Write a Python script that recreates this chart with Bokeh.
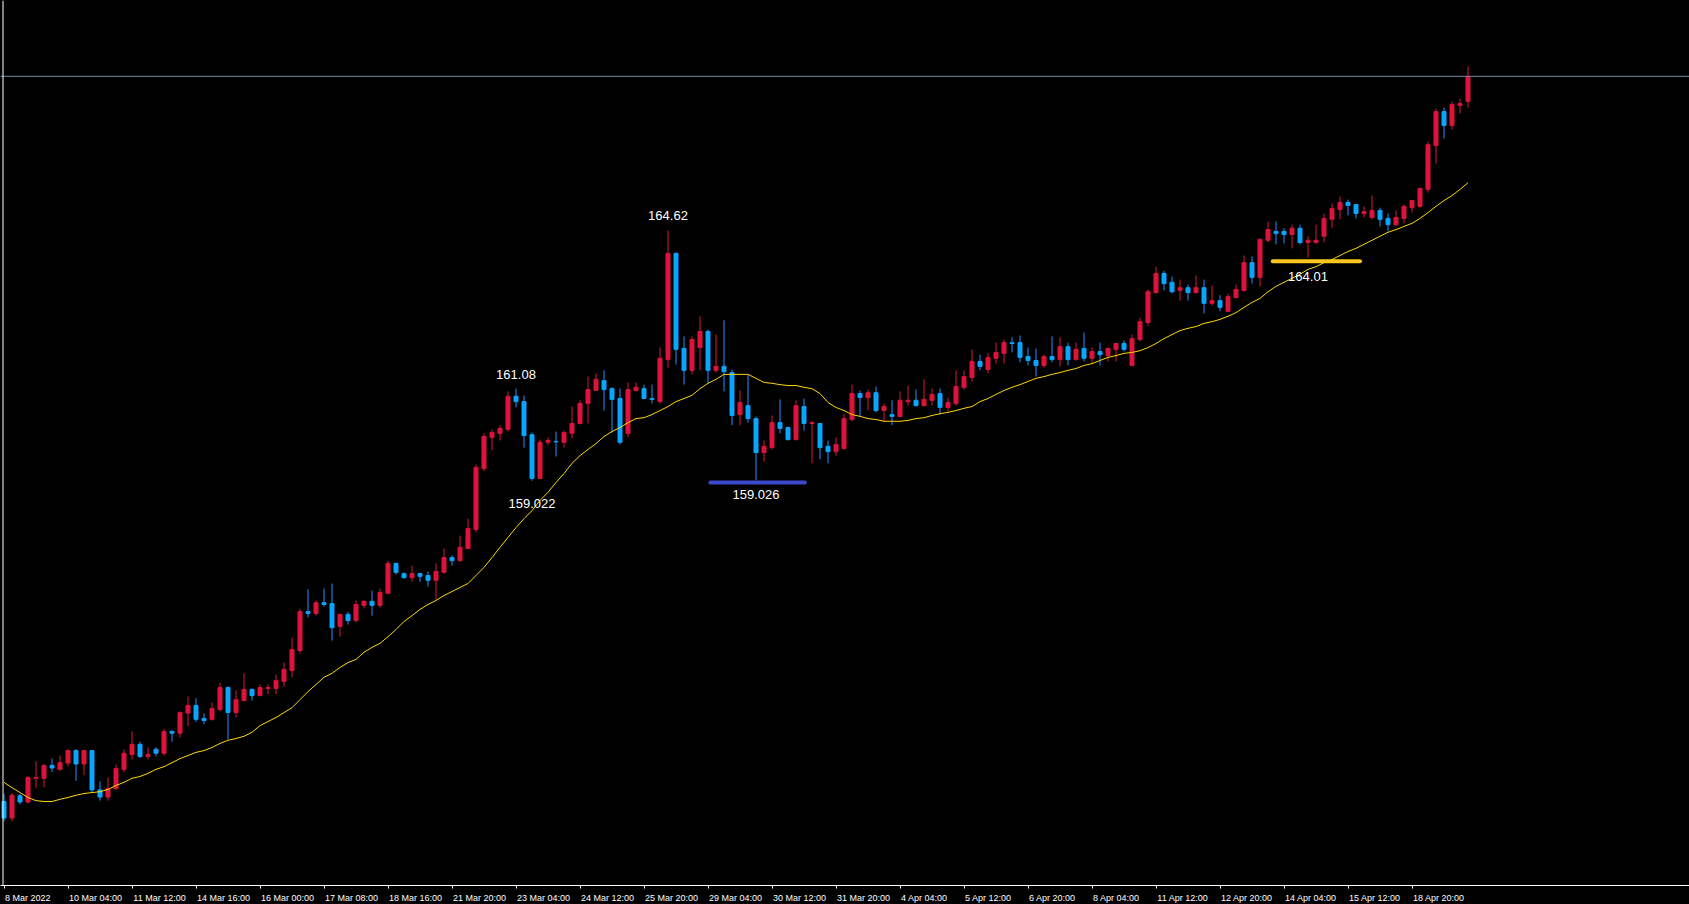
from bokeh.plotting import figure
from bokeh.models import (Range1d, FixedTicker, CustomJSTickFormatter, Span, ColumnDataSource,
                          LinearAxis, GlobalInlineStyleSheet)
from bokeh.core.properties import value
from bokeh.embed import file_html
from bokeh.resources import INLINE

# ---------------- data (GBPJPY H4) ----------------
open_ = [151.84, 151.47, 151.97, 151.83, 152.36, 152.36, 152.65, 152.56, 152.70, 152.98,
         152.68, 152.98, 152.10, 151.94, 152.13, 152.56, 152.89, 153.12, 152.85, 153.01,
         152.92, 153.41, 153.37, 153.82, 153.99, 153.70, 153.68, 153.90, 154.39, 153.83,
         154.10, 154.35, 154.21, 154.37, 154.37, 154.53, 154.77, 155.22, 156.09, 156.05,
         156.29, 156.27, 155.76, 156.03, 155.89, 156.23, 156.32, 156.23, 156.50, 157.17,
         156.94, 156.85, 156.94, 156.90, 156.79, 156.97, 157.30, 157.23, 157.50, 157.93,
         159.29, 159.99, 160.08, 160.17, 160.91, 160.79, 160.05, 159.07, 159.88, 159.90,
         159.88, 160.08, 160.30, 160.75, 161.04, 161.26, 161.08, 160.86, 160.08, 161.04,
         161.08, 160.86, 160.79, 161.73, 164.11, 161.98, 161.49, 162.00, 162.36, 161.49,
         161.58, 161.44, 160.50, 160.70, 160.41, 159.65, 159.76, 160.32, 160.21, 159.94,
         160.68, 160.30, 160.30, 159.79, 159.67, 159.74, 160.39, 160.97, 160.88, 160.99,
         160.59, 160.50, 160.46, 160.79, 160.82, 160.70, 160.82, 160.97, 160.66, 160.75,
         161.11, 161.33, 161.69, 161.51, 161.76, 161.87, 162.11, 162.11, 161.80, 161.71,
         161.60, 161.80, 161.73, 162.02, 161.73, 161.98, 161.76, 161.91, 161.82, 161.96,
         162.09, 161.60, 162.18, 162.56, 163.23, 163.66, 163.46, 163.28, 163.34, 163.23,
         163.34, 162.99, 163.05, 162.81, 163.12, 163.28, 163.90, 163.57, 164.40, 164.60,
         164.60, 164.53, 164.67, 164.35, 164.35, 164.49, 164.87, 165.09, 165.25, 165.20,
         165.00, 164.91, 165.07, 164.89, 164.75, 164.89, 165.13, 165.16, 165.54, 166.52,
         167.28, 166.97, 167.42, 167.51]
high = [152.01, 152.03, 152.01, 152.40, 152.74, 152.67, 152.80, 152.87, 153.01, 153.01,
        152.98, 152.98, 152.29, 152.38, 152.67, 153.01, 153.41, 153.18, 153.05, 153.05,
        153.47, 153.43, 153.86, 154.19, 154.15, 153.81, 154.06, 154.50, 154.42, 154.33,
        154.71, 154.37, 154.46, 154.46, 154.68, 154.95, 155.51, 156.16, 156.59, 156.34,
        156.61, 156.72, 156.03, 156.09, 156.34, 156.34, 156.56, 156.61, 157.23, 157.17,
        156.97, 157.12, 156.94, 156.99, 157.17, 157.50, 157.35, 157.79, 158.17, 159.38,
        160.08, 160.17, 160.26, 161.02, 161.08, 160.93, 160.10, 159.94, 159.99, 160.12,
        160.14, 160.68, 160.82, 161.35, 161.42, 161.49, 161.11, 161.08, 161.22, 161.22,
        161.17, 161.17, 162.00, 164.62, 164.11, 162.25, 162.25, 162.70, 162.40, 162.29,
        162.61, 161.51, 161.04, 161.40, 160.46, 159.92, 160.48, 160.84, 160.23, 160.82,
        160.86, 160.35, 160.30, 159.92, 159.99, 160.52, 161.17, 161.04, 161.06, 161.13,
        160.75, 160.82, 161.02, 161.15, 161.06, 161.29, 161.08, 161.08, 160.88, 161.49,
        161.49, 161.96, 161.84, 161.87, 162.11, 162.18, 162.23, 162.27, 162.00, 161.98,
        161.84, 162.25, 162.23, 162.11, 162.11, 162.34, 162.00, 162.11, 162.00, 162.11,
        162.16, 162.29, 162.67, 163.30, 163.81, 163.72, 163.59, 163.52, 163.41, 163.61,
        163.52, 163.39, 163.17, 163.21, 163.41, 164.06, 164.04, 164.44, 164.82, 164.82,
        164.67, 164.75, 164.75, 164.49, 164.75, 165.00, 165.22, 165.38, 165.31, 165.20,
        165.16, 165.40, 165.13, 165.00, 165.07, 165.20, 165.29, 165.58, 166.61, 167.35,
        167.37, 167.51, 167.57, 168.29]
low = [151.40, 151.40, 151.78, 151.80, 152.14, 152.16, 152.50, 152.53, 152.63, 152.30,
       152.43, 152.03, 151.86, 151.86, 152.10, 152.49, 152.78, 152.81, 152.78, 152.85,
       152.87, 153.18, 153.27, 153.53, 153.62, 153.57, 153.65, 153.86, 153.23, 153.72,
       154.08, 154.10, 154.21, 154.24, 154.24, 154.41, 154.62, 155.15, 155.96, 156.00,
       156.20, 155.44, 155.53, 155.80, 155.85, 156.16, 156.00, 156.18, 156.50, 156.92,
       156.83, 156.76, 156.76, 156.65, 156.36, 156.94, 157.12, 157.21, 157.50, 157.86,
       159.23, 159.70, 159.92, 160.12, 160.66, 159.76, 159.02, 159.05, 159.81, 159.56,
       159.76, 159.97, 160.28, 160.30, 161.02, 160.59, 160.10, 159.83, 159.99, 161.02,
       160.84, 160.75, 160.75, 161.55, 161.62, 161.17, 161.40, 161.49, 161.20, 161.44,
       161.02, 160.26, 160.26, 160.32, 159.03, 159.45, 159.72, 160.08, 159.92, 159.92,
       160.14, 159.41, 159.50, 159.41, 159.58, 159.72, 160.35, 160.46, 160.59, 160.55,
       160.35, 160.26, 160.43, 160.70, 160.68, 160.68, 160.70, 160.50, 160.57, 160.70,
       161.06, 161.24, 161.49, 161.42, 161.64, 161.64, 161.89, 161.67, 161.60, 161.35,
       161.55, 161.67, 161.58, 161.60, 161.71, 161.69, 161.64, 161.60, 161.69, 161.69,
       161.91, 161.58, 162.14, 162.49, 163.21, 163.28, 163.21, 163.05, 163.05, 163.21,
       162.76, 162.94, 162.81, 162.81, 163.10, 163.25, 163.43, 163.37, 164.35, 164.31,
       164.33, 164.22, 164.31, 164.01, 164.33, 164.35, 164.67, 164.87, 164.96, 164.89,
       164.91, 164.87, 164.71, 164.60, 164.71, 164.78, 165.02, 165.13, 165.47, 166.12,
       166.68, 166.88, 167.24, 167.37]
close = [151.47, 151.98, 151.83, 152.38, 152.38, 152.65, 152.59, 152.71, 152.98, 152.68,
         152.98, 152.10, 151.94, 152.13, 152.58, 152.92, 153.12, 152.85, 152.89, 152.92,
         153.41, 153.37, 153.83, 153.99, 153.68, 153.65, 153.92, 154.39, 153.83, 154.12,
         154.35, 154.21, 154.39, 154.39, 154.55, 154.80, 155.24, 156.09, 156.05, 156.29,
         156.25, 155.73, 156.03, 155.89, 156.25, 156.32, 156.23, 156.52, 157.17, 156.97,
         156.85, 156.94, 156.88, 156.79, 156.99, 157.30, 157.23, 157.53, 157.95, 159.32,
         160.01, 160.10, 160.19, 160.91, 160.79, 160.03, 159.07, 159.88, 159.92, 159.89,
         160.10, 160.30, 160.75, 161.06, 161.29, 161.06, 160.84, 159.88, 161.06, 161.11,
         160.86, 160.84, 161.76, 164.11, 161.96, 161.49, 162.18, 162.36, 161.49, 161.58,
         161.46, 160.48, 160.77, 160.41, 159.65, 159.79, 160.32, 160.19, 159.94, 160.70,
         160.30, 160.32, 159.76, 159.67, 159.83, 160.41, 160.97, 160.88, 160.99, 160.59,
         160.68, 160.46, 160.82, 160.82, 160.70, 160.84, 160.95, 160.66, 160.77, 161.13,
         161.35, 161.69, 161.58, 161.78, 161.89, 162.11, 162.09, 161.78, 161.71, 161.60,
         161.80, 161.73, 162.02, 161.73, 161.96, 161.76, 161.91, 161.84, 161.98, 162.09,
         161.96, 162.20, 162.58, 163.25, 163.66, 163.43, 163.25, 163.34, 163.23, 163.34,
         162.99, 163.05, 162.90, 163.14, 163.30, 163.90, 163.57, 164.42, 164.64, 164.55,
         164.53, 164.67, 164.35, 164.40, 164.40, 164.89, 165.11, 165.25, 165.18, 165.00,
         165.04, 165.07, 164.87, 164.75, 164.91, 165.16, 165.29, 165.56, 166.54, 167.28,
         166.97, 167.44, 167.46, 168.07]
moving_avg = [152.27, 152.15, 152.04, 151.93, 151.86, 151.84, 151.84, 151.89, 151.93, 151.98,
              152.02, 152.04, 152.06, 152.11, 152.20, 152.27, 152.36, 152.40, 152.47, 152.56,
              152.62, 152.71, 152.80, 152.87, 152.94, 152.98, 153.05, 153.14, 153.21, 153.25,
              153.30, 153.39, 153.54, 153.63, 153.72, 153.83, 153.94, 154.12, 154.30, 154.46,
              154.62, 154.71, 154.84, 154.95, 155.02, 155.18, 155.29, 155.38, 155.53, 155.69,
              155.87, 156.00, 156.14, 156.25, 156.34, 156.45, 156.54, 156.63, 156.72, 156.90,
              157.08, 157.30, 157.53, 157.75, 157.97, 158.17, 158.35, 158.58, 158.76, 158.98,
              159.18, 159.41, 159.58, 159.72, 159.85, 160.01, 160.12, 160.21, 160.32, 160.41,
              160.43, 160.50, 160.59, 160.68, 160.79, 160.86, 160.93, 161.08, 161.20, 161.29,
              161.40, 161.40, 161.40, 161.40, 161.31, 161.22, 161.20, 161.17, 161.15, 161.15,
              161.11, 161.08, 160.97, 160.77, 160.66, 160.59, 160.50, 160.46, 160.41, 160.39,
              160.35, 160.35, 160.35, 160.37, 160.41, 160.43, 160.48, 160.52, 160.55, 160.59,
              160.64, 160.68, 160.79, 160.86, 160.95, 161.04, 161.11, 161.17, 161.24, 161.31,
              161.35, 161.40, 161.44, 161.49, 161.53, 161.60, 161.64, 161.71, 161.78, 161.82,
              161.87, 161.89, 161.93, 162.00, 162.09, 162.20, 162.29, 162.38, 162.43, 162.47,
              162.54, 162.58, 162.63, 162.70, 162.78, 162.90, 163.01, 163.10, 163.25, 163.37,
              163.46, 163.55, 163.64, 163.75, 163.81, 163.90, 163.97, 164.06, 164.15, 164.22,
              164.31, 164.40, 164.49, 164.58, 164.64, 164.71, 164.78, 164.89, 165.02, 165.16,
              165.29, 165.40, 165.54, 165.69]

tick_labels = ["8 Mar 2022", "10 Mar 04:00", "11 Mar 12:00", "14 Mar 16:00", "16 Mar 00:00",
               "17 Mar 08:00", "18 Mar 16:00", "21 Mar 20:00", "23 Mar 04:00", "24 Mar 12:00",
               "25 Mar 20:00", "29 Mar 04:00", "30 Mar 12:00", "31 Mar 20:00", "4 Apr 04:00",
               "5 Apr 12:00", "6 Apr 20:00", "8 Apr 04:00", "11 Apr 12:00", "12 Apr 20:00",
               "14 Apr 04:00", "15 Apr 12:00", "18 Apr 20:00"]
bars_per_tick = 8

ann_bar = [83, 64, 66, 94, 163]
ann_price = [164.62, 161.08, 159.022, 159.026, 164.01]
ann_text = ["164.62", "161.08", "159.022", "159.026", "164.01"]

level_price = [158.98, 163.93]
level_from = [88.3, 158.6]
level_to = [100.1, 169.5]

# ---------------- layout / style ----------------
PX_PER_BAR = 8
FIRST_BAR_PX = 3.5          # screen x of the first bar's centre
FRAME_W, FRAME_H = 1689, 885
PRICE_PER_PX = 0.02238
Y_TOP = 169.767

BULL = "#DC143C"
BEAR_BODY = "#0AA5FF"
BEAR_WICK = "#1E90FF"
LABEL_FONT = "Liberation Sans"

n = len(close)
idx = list(range(n))
bull = [c >= o for o, c in zip(open_, close)]
src = ColumnDataSource(dict(
    x=idx, high=high, low=low,
    top=[max(o, c) for o, c in zip(open_, close)],
    bottom=[min(o, c) for o, c in zip(open_, close)],
    bc=[BULL if b else BEAR_BODY for b in bull],
    wc=[BULL if b else BEAR_WICK for b in bull],
))

x_start = -FIRST_BAR_PX / PX_PER_BAR
page_css = GlobalInlineStyleSheet(
    css="html, body { margin: 0; padding: 0; background: #000; overflow: hidden; }")
p = figure(frame_width=FRAME_W, frame_height=FRAME_H,
           x_range=Range1d(x_start, x_start + FRAME_W / PX_PER_BAR),
           y_range=Range1d(Y_TOP - FRAME_H * PRICE_PER_PX, Y_TOP),
           output_backend="svg", toolbar_location=None,
           x_axis_location=None, y_axis_location=None,
           min_border=0, background_fill_color="black", border_fill_color="black",
           outline_line_color=None, stylesheets=[page_css])
p.xgrid.visible = False
p.ygrid.visible = False

# candles
p.segment(x0="x", y0="low", x1="x", y1="high", line_color="wc", line_width=1, source=src)
p.vbar(x="x", width=0.5, top="top", bottom="bottom", fill_color="bc", line_color="bc",
       line_width=1, source=src)

# moving average
p.line(idx, moving_avg, line_color="#FFD700", line_width=1)

# horizontal level markers
p.segment(x0=level_from, x1=level_to, y0=level_price, y1=level_price,
          line_color=["#3C48CC", "#FFC61E"], line_width=4, line_cap="round")

# price annotations
ann_dy = [-14.5, -14, 23, 14, 19]
p.text(x=ann_bar, y=ann_price, text=ann_text, y_offset=ann_dy,
       text_align="center", text_baseline="middle", text_color="white",
       text_font=value(LABEL_FONT), text_font_size="13px")

# last price line and left border
p.add_layout(Span(location=close[-1], dimension="width", line_color="#7A8AA0", line_width=1))
p.add_layout(Span(location=x_start + 2.5 / PX_PER_BAR, dimension="height",
                  line_color="white", line_width=1))

# time axis: labels start at their tick (MT4 style)
EM = {ch: 0.556 for ch in "0123456789"}
EM.update({" ": 0.278, ":": 0.278, "M": 0.833, "a": 0.556, "r": 0.333, "A": 0.667, "p": 0.556})
LBL_SIZE = 9


def text_w(s):
    return sum(EM.get(ch, 0.556) for ch in s) * LBL_SIZE


tick_bars = [i * bars_per_tick for i in range(len(tick_labels))]
centers = [b + (text_w(t) / 2 + 1) / PX_PER_BAR for b, t in zip(tick_bars, tick_labels)]

fmt = CustomJSTickFormatter(args=dict(c=centers, l=tick_labels), code="""
let best = 0;
for (let i = 1; i < c.length; i++) {
  if (Math.abs(c[i] - tick) < Math.abs(c[best] - tick)) best = i;
}
return l[best];
""")
ax = LinearAxis(ticker=FixedTicker(ticks=centers, minor_ticks=tick_bars), formatter=fmt)
ax.axis_line_color = "white"
ax.axis_line_width = 1
ax.major_tick_line_color = None
ax.major_tick_in = 0
ax.major_tick_out = 0
ax.minor_tick_line_color = "white"
ax.minor_tick_in = 0
ax.minor_tick_out = 3
ax.major_label_standoff = 4
ax.major_label_text_color = "white"
ax.major_label_text_font = LABEL_FONT
ax.major_label_text_font_size = f"{LBL_SIZE}px"
p.add_layout(ax, "below")

open("out.html", "w").write(file_html(p, INLINE))
